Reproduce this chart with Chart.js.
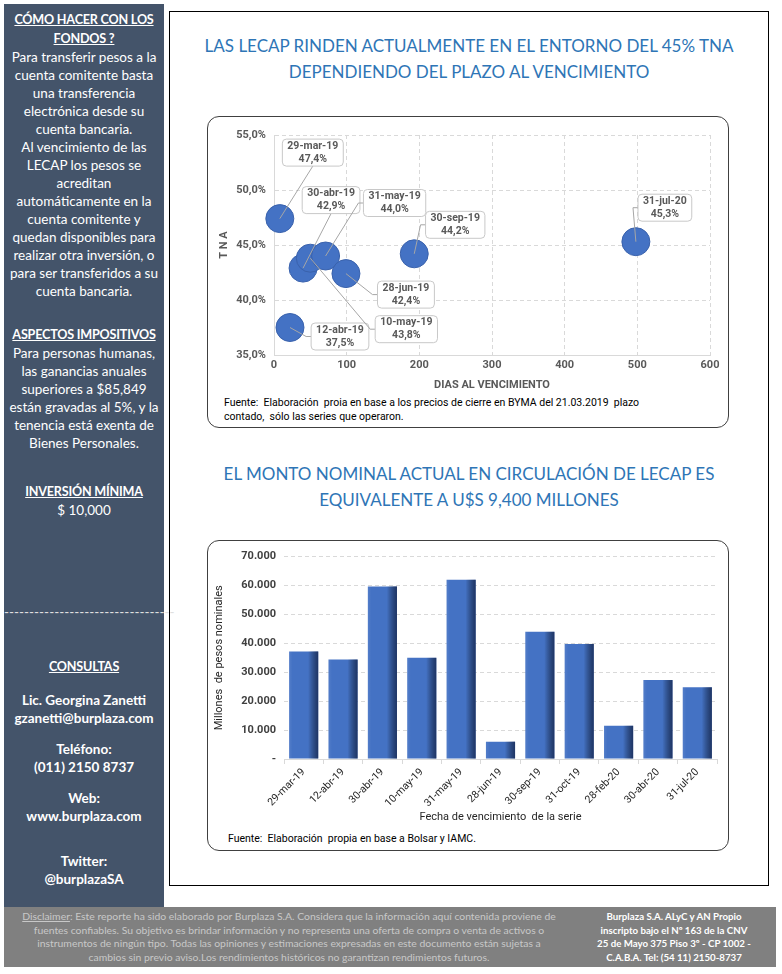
<!DOCTYPE html>
<html>
<head>
<meta charset="utf-8">
<script src="https://cdn.jsdelivr.net/npm/chart.js@4"></script>
<style>
body{margin:0;width:782px;height:974px;overflow:hidden;background:#fff;font-family:Lato,sans-serif;position:relative}
#side{position:absolute;left:4px;top:4px;width:160px;height:903px;background:#44546A;color:#fff;text-align:center;font-size:13.5px;line-height:18px}
.blk{position:absolute;left:0;width:160px;white-space:nowrap}
.hd{font-weight:bold;text-decoration:underline;font-size:12.6px;letter-spacing:-0.2px}
.b{font-weight:bold}
#main{position:absolute;left:169px;top:11px;width:598px;height:873px;border:1.5px solid #000}
.ttl{position:absolute;left:169px;width:600px;text-align:center;color:#2E75B6;font-size:17px;line-height:26px;white-space:nowrap}
.box{position:absolute;left:207px;width:520px;border:1.5px solid #404040;border-radius:12px;background:#fff}
.src{position:absolute;font-family:Roboto,sans-serif;font-size:10.5px;line-height:14px;color:#000;white-space:nowrap}
canvas{position:absolute}
#foot{position:absolute;left:4px;top:907px;width:772px;height:60px;background:#808080}
#disc{position:absolute;left:0;top:3px;width:570px;text-align:center;color:#C8C8C8;font-size:10.4px;line-height:13.7px;white-space:nowrap}
#firma{position:absolute;left:566px;top:3px;width:208px;text-align:center;color:#fff;font-weight:bold;font-size:9.7px;line-height:13.7px;white-space:nowrap}
</style>
</head>
<body>
<div id="side">
  <div class="blk" style="top:6px"><span class="hd">CÓMO HACER CON LOS<br>FONDOS ?</span><br>Para transferir pesos a la<br>cuenta comitente basta<br>una transferencia<br>electrónica desde su<br>cuenta bancaria.<br>Al vencimiento de las<br>LECAP los pesos se<br>acreditan<br>automáticamente en la<br>cuenta comitente y<br>quedan disponibles para<br>realizar otra inversión, o<br>para ser transferidos a su<br>cuenta bancaria.</div>
  <div class="blk" style="top:321px"><span class="hd">ASPECTOS IMPOSITIVOS</span><br>Para personas humanas,<br>las ganancias anuales<br>superiores a $85,849<br>están gravadas al 5%, y la<br>tenencia está exenta de<br>Bienes Personales.</div>
  <div class="blk" style="top:478px"><span class="hd">INVERSIÓN MÍNIMA</span><br>$ 10,000</div>
  <div class="blk" style="top:599px;color:#E0E0E0">----------------------------------</div>
  <div class="blk" style="top:653px"><span class="hd">CONSULTAS</span></div>
  <div class="blk b" style="top:687px">Lic. Georgina Zanetti<br>gzanetti@burplaza.com</div>
  <div class="blk b" style="top:736px">Teléfono:<br>(011) 2150 8737</div>
  <div class="blk b" style="top:785px">Web:<br>www.burplaza.com</div>
  <div class="blk b" style="top:848px">Twitter:<br>@burplazaSA</div>
</div>

<div id="main"></div>
<div class="ttl" style="top:33px">LAS LECAP RINDEN ACTUALMENTE EN EL ENTORNO DEL 45% TNA<br>DEPENDIENDO DEL PLAZO AL VENCIMIENTO</div>
<div class="box" style="top:116px;height:310px"></div>
<canvas id="tnaChart" width="518" height="278" style="left:209px;top:118px"></canvas>
<div class="src" style="left:224px;top:396px">Fuente:&nbsp; Elaboración&nbsp; proia en base a los precios de cierre en BYMA del 21.03.2019&nbsp; plazo<br>contado,&nbsp; sólo las series que operaron.</div>

<div class="ttl" style="top:461px">EL MONTO NOMINAL ACTUAL EN CIRCULACIÓN DE LECAP ES<br>EQUIVALENTE A U$S 9,400 MILLONES</div>
<div class="box" style="top:540px;height:309px"></div>
<canvas id="montoChart" width="518" height="286" style="left:209px;top:542px"></canvas>
<div class="src" style="left:228px;top:832px">Fuente:&nbsp; Elaboración&nbsp; propia en base a Bolsar y IAMC.</div>

<div id="foot">
  <div id="disc"><u>Disclaimer</u>: Este reporte ha sido elaborado por Burplaza S.A. Considera que la información aquí contenida proviene de<br>fuentes confiables. Su objetivo es brindar información y no representa una oferta de compra o venta de activos o<br>instrumentos de ningún tipo. Todas las opiniones y estimaciones expresadas en este documento están sujetas a<br>cambios sin previo aviso.Los rendimientos históricos no garantizan rendimientos futuros.</div>
  <div id="firma">Burplaza S.A. ALyC y AN Propio<br>inscripto bajo el Nº 163 de la CNV<br>25 de Mayo 375 Piso 3º - CP 1002 -<br>C.A.B.A. Tel: (54 11) 2150-8737</div>
</div>

<script>
// series LECAP - TNA vs dias al vencimiento (precios al 21.03.2019)
const fechas = ['29-mar-19', '12-abr-19', '30-abr-19', '10-may-19', '31-may-19', '28-jun-19', '30-sep-19', '31-jul-20'];
const dias = [8, 22, 40, 50, 71, 99, 193, 498];
const tna = [47.4, 37.5, 42.9, 43.8, 44.0, 42.4, 44.2, 45.3];

// monto nominal en circulacion (millones de pesos)
const series = ['29-mar-19', '12-abr-19', '30-abr-19', '10-may-19', '31-may-19', '28-jun-19', '30-sep-19', '31-oct-19', '28-feb-20', '30-abr-20', '31-jul-20'];
const monto = [37200, 34400, 59700, 35000, 62000, 6000, 44000, 39800, 11500, 27300, 24800];

const gris = '#595959';
const grilla = '#D9D9D9';

function pct(v) {
  return v.toFixed(1).replace('.', ',') + '%';
}

// etiquetas con linea guia, como las de excel
const etiquetas = {
  id: 'etiquetas',
  afterDatasetsDraw(chart, args, opts) {
    const ctx = chart.ctx;
    const meta = chart.getDatasetMeta(0);
    ctx.save();
    ctx.font = 'bold 10.5px Roboto';
    meta.data.forEach((pt, i) => {
      const o = opts.pos[i];
      const l1 = fechas[i];
      const l2 = pct(tna[i]);
      const w = Math.max(ctx.measureText(l1).width, ctx.measureText(l2).width) + 10;
      const h = 27;
      const cx = pt.x + o[0], cy = pt.y + o[1];
      const bx = cx - w / 2, by = cy - h / 2;
      ctx.strokeStyle = '#A6A6A6';
      ctx.lineWidth = 1;
      ctx.beginPath();
      ctx.moveTo(pt.x, pt.y);
      if (o[2] === 'l') {
        ctx.lineTo(bx - 5, cy);
        ctx.lineTo(bx, cy);
      } else {
        ctx.lineTo(cx, by + h);
      }
      ctx.stroke();
      ctx.fillStyle = '#fff';
      ctx.strokeStyle = '#C8C8C8';
      ctx.beginPath();
      ctx.roundRect(bx, by, w, h, 4);
      ctx.fill();
      ctx.stroke();
      ctx.fillStyle = gris;
      ctx.textAlign = 'center';
      ctx.textBaseline = 'middle';
      ctx.fillText(l1, cx, cy - 6.5);
      ctx.fillText(l2, cx, cy + 6.5);
    });
    ctx.restore();
  }
};

// sombreado lateral de las barras
const sombra = {
  id: 'sombra',
  afterDatasetsDraw(chart) {
    const ctx = chart.ctx;
    chart.getDatasetMeta(0).data.forEach(bar => {
      const w = bar.width;
      const left = bar.x - w / 2;
      const g = ctx.createLinearGradient(left, 0, left + w, 0);
      g.addColorStop(0, 'rgba(255,255,255,0.08)');
      g.addColorStop(0.12, 'rgba(255,255,255,0)');
      g.addColorStop(0.65, 'rgba(0,0,0,0)');
      g.addColorStop(1, 'rgba(10,20,50,0.65)');
      ctx.fillStyle = g;
      ctx.fillRect(left, bar.y, w, bar.base - bar.y);
    });
  }
};

const tickFont = { family: 'Roboto', size: 11, weight: 'bold' };

new Chart(document.getElementById('tnaChart'), {
  type: 'scatter',
  data: {
    datasets: [{
      data: dias.map((d, i) => ({ x: d, y: tna[i] })),
      backgroundColor: '#4472C4',
      borderColor: '#3A62AC',
      borderWidth: 1,
      pointRadius: 14,
      pointHoverRadius: 14,
      clip: false
    }]
  },
  options: {
    responsive: false,
    animation: false,
    layout: { padding: { left: 5, right: 17, top: 17, bottom: 0 } },
    plugins: {
      legend: { display: false },
      tooltip: { enabled: false },
      etiquetas: {
        pos: [[33, -66, 'b'], [50, 9, 'l'], [28, -68, 'b'], [96, 71, 'l'], [69, -53, 'l'], [60, 21, 'l'], [41, -29, 'l'], [29, -34, 'l']]
      }
    },
    scales: {
      x: {
        type: 'linear', min: 0, max: 600,
        afterFit(s) { s.height = 41; },
        ticks: { stepSize: 100, color: gris, font: tickFont, padding: 4 },
        grid: { color: grilla, drawTicks: false },
        border: { color: grilla, dash: [4, 3] },
        title: { display: true, text: 'DIAS AL VENCIMIENTO', color: gris, font: tickFont, padding: { top: 2, bottom: 4 } }
      },
      y: {
        min: 35, max: 55,
        afterFit(s) { s.width = 60; },
        ticks: { stepSize: 5, color: gris, font: tickFont, padding: 8, callback: v => pct(v) },
        grid: { color: grilla, drawTicks: false },
        border: { color: grilla, dash: [4, 3] },
        title: { display: true, text: 'T N A', color: gris, font: tickFont }
      }
    }
  },
  plugins: [etiquetas]
});

new Chart(document.getElementById('montoChart'), {
  type: 'bar',
  data: {
    labels: series,
    datasets: [{
      data: monto,
      backgroundColor: '#4472C4',
      barPercentage: 0.74,
      categoryPercentage: 1
    }]
  },
  options: {
    responsive: false,
    animation: false,
    layout: { padding: { left: 0, right: 10, top: 9, bottom: 0 } },
    plugins: { legend: { display: false }, tooltip: { enabled: false } },
    scales: {
      x: {
        afterFit(s) { s.height = 69; },
        ticks: { color: '#262626', font: { family: 'Roboto', size: 10.5 }, minRotation: 45, maxRotation: 45, padding: 2 },
        grid: { drawOnChartArea: false, offset: true, tickLength: 5, color: grilla },
        border: { color: grilla },
        title: { display: true, text: 'Fecha de vencimiento  de la serie', color: '#262626', font: { family: 'Roboto', size: 11 }, padding: { top: 2, bottom: 4 } }
      },
      y: {
        min: 0, max: 70000,
        afterFit(s) { s.width = 75; },
        ticks: { stepSize: 10000, color: '#404040', font: tickFont, padding: 8, callback: v => v === 0 ? '-' : v.toLocaleString('de-DE') },
        grid: { color: grilla, drawTicks: false },
        border: { display: false, dash: [4, 3] },
        title: { display: true, text: 'Millones  de pesos nominales', color: '#262626', font: { family: 'Roboto', size: 11 } }
      }
    }
  },
  plugins: [sombra]
});
</script>
</body>
</html>
